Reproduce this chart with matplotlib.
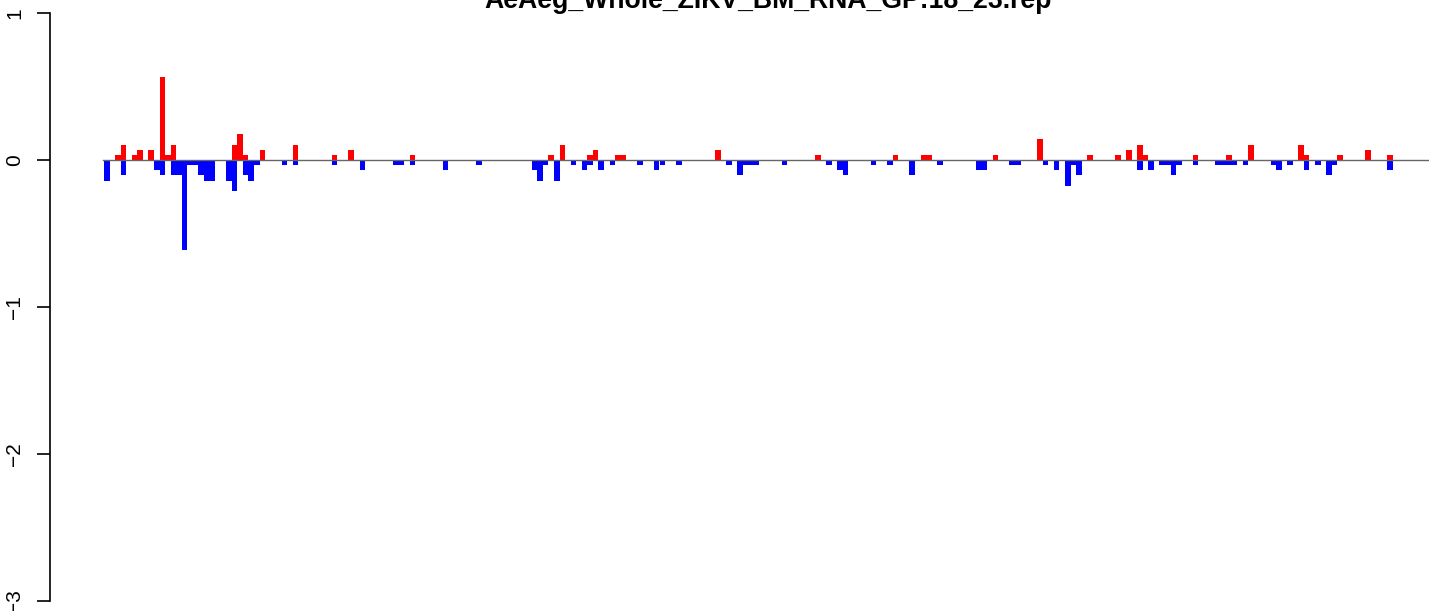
import matplotlib
matplotlib.use("Agg")
import matplotlib.pyplot as plt
import numpy as np

plt.rcParams['font.family'] = ['Liberation Sans', 'DejaVu Sans']

title = "AeAeg_Whole_ZIKV_BM_RNA_GP:18_23.rep"
n_bins = 232

# positive (red) bars: bin index -> value
pos_idx = [2, 3, 5, 6, 8, 10, 11, 12, 23, 24, 25, 28, 34, 41, 44, 55, 80, 82, 87, 88,
           92, 93, 110, 128, 142, 147, 148, 160, 168, 177, 182, 184, 186, 187, 196,
           202, 206, 215, 216, 222, 227, 231]
pos_val = [0.035, 0.105, 0.035, 0.07, 0.07, 0.567, 0.035, 0.105, 0.105, 0.175, 0.035,
           0.07, 0.105, 0.035, 0.07, 0.035, 0.035, 0.105, 0.035, 0.07,
           0.035, 0.035, 0.07, 0.035, 0.035, 0.035, 0.035, 0.035, 0.14, 0.035, 0.035,
           0.07, 0.105, 0.035, 0.035, 0.035, 0.105, 0.105, 0.035, 0.035, 0.07, 0.035]

# negative (blue) bars: bin index -> value
neg_idx = [0, 3, 9, 10, 12, 13, 14, 15, 16, 17, 18, 19, 22, 23, 25, 26, 27, 32, 34, 41,
           46, 52, 53, 55, 61, 67, 77, 78, 79, 81, 84, 86, 87, 89, 91, 96, 99, 100, 103,
           112, 114, 115, 116, 117, 122, 130, 132, 133, 138, 141, 145, 150, 157, 158,
           163, 164, 169, 171, 173, 174, 175, 186, 188, 190, 191, 192, 193, 196, 200,
           201, 202, 203, 205, 210, 211, 213, 216, 218, 220, 221, 231]
neg_val = [-0.14, -0.105, -0.07, -0.105, -0.105, -0.105, -0.61, -0.035, -0.035, -0.105,
           -0.14, -0.14, -0.14, -0.21, -0.105, -0.14, -0.035, -0.035, -0.035, -0.035,
           -0.07, -0.035, -0.035, -0.035, -0.07, -0.035, -0.07, -0.14, -0.035, -0.14,
           -0.035, -0.07, -0.035, -0.07, -0.035, -0.035, -0.07, -0.035, -0.035,
           -0.035, -0.105, -0.035, -0.035, -0.035, -0.035, -0.035, -0.07, -0.105,
           -0.035, -0.035, -0.105, -0.035, -0.07, -0.07,
           -0.035, -0.035, -0.035, -0.07, -0.175, -0.035, -0.105, -0.07, -0.07,
           -0.035, -0.035, -0.105, -0.035, -0.035, -0.035,
           -0.035, -0.035, -0.035, -0.035, -0.035, -0.07, -0.035, -0.07, -0.035,
           -0.105, -0.035, -0.07]

y_ticks = [1, 0, -1, -2, -3]

W, H = 1429, 611
fig = plt.figure(figsize=(W / 100, H / 100), dpi=100)
ax_left = 50
ax_top = 13
ax_bottom = 601
ax = fig.add_axes([ax_left / W, (H - ax_bottom) / H, (W - ax_left) / W, (ax_bottom - ax_top) / H])

bar_x0 = 104.0
bar_w = 5.555
ax.set_xlim((ax_left - bar_x0) / bar_w, (W - bar_x0) / bar_w)
ax.set_ylim(-3, 1)

ax.bar(neg_idx, neg_val, width=1.0, align='edge', color='#0000FF', linewidth=0)
ax.bar(pos_idx, pos_val, width=1.0, align='edge', color='#FF0000', linewidth=0)
ax.plot([-0.2, 300], [0, 0], color='#666666', linewidth=1.0, zorder=3)

for s in ['top', 'right', 'bottom']:
    ax.spines[s].set_visible(False)
ax.spines['left'].set_linewidth(1.2)
ax.set_xticks([])
ax.set_yticks(y_ticks)
ax.set_yticklabels([str(t).replace('-', '\u2212') for t in y_ticks], rotation=90,
                   va='center', fontsize=15)
ax.tick_params(axis='y', length=9.4, width=1.2, pad=9)

fig.text(768 / W, 1 - 8 / H, title, ha='center', va='baseline', fontsize=19.2,
         fontweight='bold')

fig.savefig('out.png', dpi=100)
